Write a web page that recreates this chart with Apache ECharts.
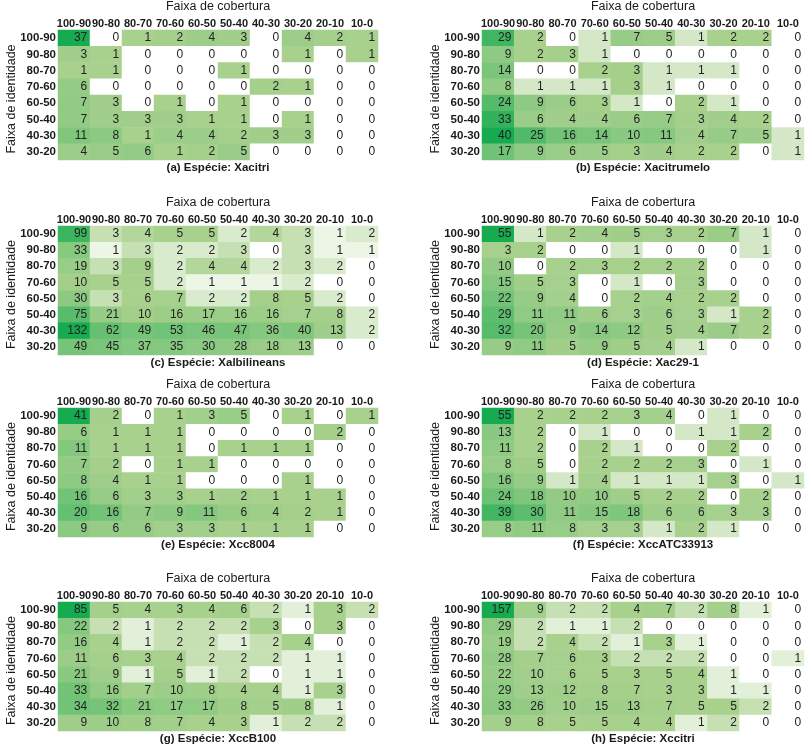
<!DOCTYPE html>
<html>
<head>
<meta charset="utf-8">
<script src="https://cdn.jsdelivr.net/npm/echarts@6/dist/echarts.min.js"></script>
<style>
html,body{margin:0;padding:0;background:#fff;}
#chart{width:805px;height:750px;}
</style>
</head>
<body>
<div id="chart"></div>
<script>
// ---- Data ----
const coverageBands = ['100-90','90-80','80-70','70-60','60-50','50-40','40-30','30-20','20-10','10-0'];
const identityBands = ['100-90','90-80','80-70','70-60','60-50','50-40','40-30','30-20'];
const xTitle = 'Faixa de cobertura';
const yTitle = 'Faixa de identidade';
const captions = ['(a) Espécie: Xacitri','(b) Espécie: Xacitrumelo','(c) Espécie: Xalbilineans','(d) Espécie: Xac29-1',
                  '(e) Espécie: Xcc8004','(f) Espécie: XccATC33913','(g) Espécie: XccB100','(h) Espécie: Xccitri'];

const xacitri = [
  [37,0,1,2,4,3,0,4,2,1],
  [3,1,0,0,0,0,0,1,0,1],
  [1,1,0,0,0,1,0,0,0,0],
  [6,0,0,0,0,0,2,1,0,0],
  [7,3,0,1,0,1,0,0,0,0],
  [7,3,3,3,1,1,0,1,0,0],
  [11,8,1,4,4,2,3,3,0,0],
  [4,5,6,1,2,5,0,0,0,0]
];
const xacitrumelo = [
  [29,2,0,1,7,5,1,2,2,0],
  [9,2,3,1,0,0,0,0,0,0],
  [14,0,0,2,3,1,1,1,0,0],
  [8,1,1,1,3,1,0,0,0,0],
  [24,9,6,3,1,0,2,1,0,0],
  [33,6,4,4,6,7,3,4,2,0],
  [40,25,16,14,10,11,4,7,5,1],
  [17,9,6,5,3,4,2,2,0,1]
];
const xalbilineans = [
  [99,3,4,5,5,2,4,3,1,2],
  [33,1,3,2,2,3,0,3,1,1],
  [19,3,9,2,4,4,2,3,2,0],
  [10,5,5,2,1,1,1,2,0,0],
  [30,3,6,7,2,2,8,5,2,0],
  [75,21,10,16,17,16,16,7,8,2],
  [132,62,49,53,46,47,36,40,13,2],
  [49,45,37,35,30,28,18,13,0,0]
];
const xac29_1 = [
  [55,1,2,4,5,3,2,7,1,0],
  [3,2,0,0,1,0,0,0,1,0],
  [10,0,2,3,2,2,2,0,0,0],
  [15,5,3,0,1,0,3,0,0,0],
  [22,9,4,0,2,4,2,2,0,0],
  [29,11,11,6,3,6,3,1,2,0],
  [32,20,9,14,12,5,4,7,2,0],
  [9,11,5,9,5,4,1,0,0,0]
];
const xcc8004 = [
  [41,2,0,1,3,5,0,1,0,1],
  [6,1,1,1,0,0,0,0,2,0],
  [11,1,1,1,0,1,1,1,0,0],
  [7,2,0,1,1,0,0,0,0,0],
  [8,4,1,1,0,0,0,1,0,0],
  [16,6,3,3,1,2,1,1,1,0],
  [20,16,7,9,11,6,4,2,1,0],
  [9,6,6,3,3,1,1,1,0,0]
];
const xccATC33913 = [
  [55,2,2,2,3,4,0,1,0,0],
  [13,2,0,1,0,0,1,1,2,0],
  [11,2,0,2,1,0,0,2,0,0],
  [8,5,0,2,2,2,3,0,1,0],
  [16,9,1,4,1,1,1,3,0,1],
  [24,18,10,10,5,2,2,0,2,0],
  [39,30,11,15,18,6,6,3,3,0],
  [8,11,8,3,3,1,2,1,0,0]
];
const xccB100 = [
  [85,5,4,3,4,6,2,1,3,2],
  [22,2,1,2,2,2,3,0,3,0],
  [16,4,1,2,2,1,2,4,0,0],
  [11,6,3,4,2,2,2,1,1,0],
  [21,9,1,5,1,2,0,1,1,0],
  [33,16,7,10,8,4,4,1,3,0],
  [34,32,21,17,17,8,5,8,1,0],
  [9,10,8,7,4,3,1,2,2,0]
];
const xccitri = [
  [157,9,2,2,4,7,2,8,1,0],
  [29,2,1,1,2,0,0,0,0,0],
  [19,2,4,2,1,3,1,0,0,0],
  [28,7,6,3,2,2,2,0,0,1],
  [22,10,6,5,3,5,4,1,0,0],
  [29,13,12,8,7,3,3,1,1,0],
  [33,26,10,15,13,7,5,5,2,0],
  [9,8,5,5,4,4,1,2,0,0]
];
const matrices = [xacitri, xacitrumelo, xalbilineans, xac29_1, xcc8004, xccATC33913, xccB100, xccitri];

// ---- Layout ----
const colLeft = [58, 482];
const gridWidth = [320, 322];
const rowTops = [30, 226, 408, 602];
const rowHeights = [130, 129, 129, 129];
const FONT = '"Liberation Sans", Arial, sans-serif';
const TXT = '#1a1a1a';

// Excel-like 3-colour scale: min -> white, 50th percentile -> light green, max -> green
function percentile(sorted, p) {
  const r = p * (sorted.length - 1);
  const lo = Math.floor(r), hi = Math.ceil(r);
  return sorted[lo] + (sorted[hi] - sorted[lo]) * (r - lo);
}
function buildData(m) {
  const flat = m.flat().slice().sort((a, b) => a - b);
  const mn = flat[0], mx = flat[flat.length - 1], md = percentile(flat, 0.5);
  const out = [];
  m.forEach((row, r) => row.forEach((v, c) => {
    let t;
    if (v <= md) t = md > mn ? 0.5 * (v - mn) / (md - mn) : (v > mn ? 0.5 : 0);
    else t = 0.5 + 0.5 * (v - md) / (mx - md);
    out.push([c, r, v, t]);
  }));
  return out;
}

const grid = [], xAxis = [], yAxis = [], series = [], visualMap = [], graphic = [];
matrices.forEach((m, i) => {
  const col = i % 2, row = Math.floor(i / 2);
  const left = colLeft[col], top = rowTops[row], w = gridWidth[col], h = rowHeights[row];
  grid.push({left: left, top: top, width: w, height: h});
  xAxis.push({
    type: 'category', gridIndex: i, data: coverageBands, position: 'top',
    axisLine: {show: false}, axisTick: {show: false}, splitArea: {show: false},
    axisLabel: {interval: 0, margin: 1, fontSize: 11, fontWeight: 'bold', fontFamily: FONT, color: TXT, hideOverlap: false}
  });
  yAxis.push({
    type: 'category', gridIndex: i, data: identityBands, inverse: true,
    axisLine: {show: false}, axisTick: {show: false}, splitArea: {show: false},
    axisLabel: {interval: 0, margin: 2, fontSize: 11.5, fontWeight: 'bold', fontFamily: FONT, color: TXT}
  });
  series.push({
    type: 'heatmap', xAxisIndex: i, yAxisIndex: i, data: buildData(m),
    encode: {x: 0, y: 1, value: 2},
    label: {show: true, position: 'insideRight', distance: 3, fontSize: 12, fontFamily: FONT, color: '#222',
            formatter: p => String(p.value[2])},
    itemStyle: {borderWidth: 0},
    emphasis: {disabled: true}
  });
  visualMap.push({
    type: 'continuous', show: false, seriesIndex: i, dimension: 3, min: 0, max: 1,
    inRange: {color: ['#ffffff', '#a9d18e', '#16ab50']}
  });
  const cx = left + w / 2;
  graphic.push({type: 'text', x: cx, y: top - 23,
    style: {text: xTitle, fontSize: 12.5, fontFamily: FONT, fill: TXT, align: 'center', verticalAlign: 'middle'}});
  graphic.push({type: 'text', x: cx, y: top + h + 8,
    style: {text: captions[i], fontSize: 11.5, fontWeight: 'bold', fontFamily: FONT, fill: TXT, align: 'center', verticalAlign: 'middle'}});
  graphic.push({type: 'text', x: left - 46, y: top + h / 2 + 4, rotation: Math.PI / 2,
    style: {text: yTitle, fontSize: 12.5, fontFamily: FONT, fill: TXT, align: 'center', verticalAlign: 'middle'}});
});

const chart = echarts.init(document.getElementById('chart'), null, {renderer: 'canvas'});
chart.setOption({
  animation: false,
  backgroundColor: '#ffffff',
  grid, xAxis, yAxis, series, visualMap, graphic
});
</script>
</body>
</html>
